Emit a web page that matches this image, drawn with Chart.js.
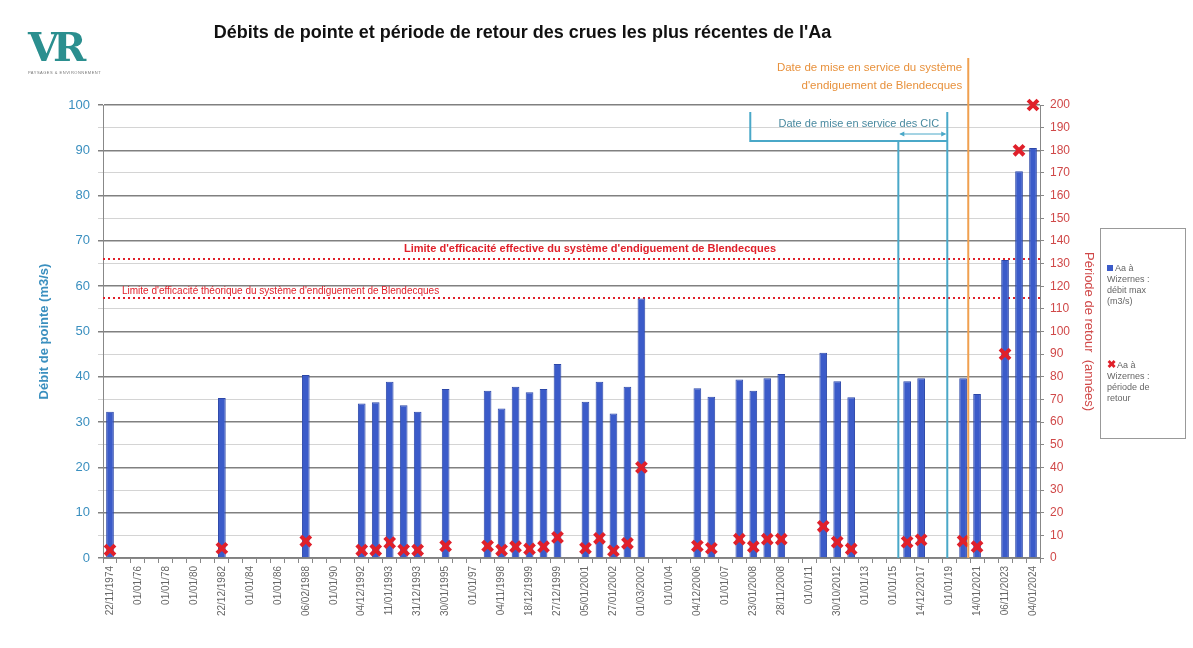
<!DOCTYPE html>
<html lang="fr">
<head>
<meta charset="utf-8">
<title>Débits de pointe de l'Aa</title>
<script src="https://cdn.jsdelivr.net/npm/chart.js@4.4.1/dist/chart.umd.min.js"></script>
<style>
    body { margin: 0; background: #fff; font-family: 'Liberation Sans', Arial, sans-serif; }
    #wrap { position: relative; width: 1193px; height: 648px; overflow: hidden; }
    #chart { position: absolute; left: 0; top: 0; }
    .title { position: absolute; left: 0; top: 22px; width: 1045px; text-align: center; font-weight: bold; font-size: 18px; color: #111; }
    .logo { position: absolute; left: 28px; top: 26px; width: 110px; }
    .logo .big { font-family: 'DejaVu Serif', 'Liberation Serif', serif; font-size: 40px; font-weight: bold; color: #2b8f8f; letter-spacing: -6px; line-height: 42px; }
    .logo .small { font-size: 4px; color: #777; margin-top: 2px; letter-spacing: 0.5px; }
    .legend { position: absolute; left: 1100px; top: 228px; width: 86px; height: 211px; border: 1px solid #999; box-sizing: border-box; font-size: 9px; color: #666; line-height: 11px; }
    .legend .item { position: absolute; left: 6px; width: 76px; }
    .legend .swatch { display: inline-block; width: 6px; height: 6px; background: #3b5bc9; margin-right: 2px; }
    .legend .cross { color: #e0202a; font-weight: bold; font-size: 11px; margin-right: 1px; }
</style>
</head>
<body>
<div id="wrap">
    <canvas id="chart" width="1193" height="648"></canvas>
    <div class="title">Débits de pointe et période de retour des crues les plus récentes de l'Aa</div>
    <div class="logo"><div class="big">VR</div><div class="small">PAYSAGES &amp; ENVIRONNEMENT</div></div>
    <div class="legend">
        <div class="item" style="top:34px"><span class="swatch"></span>Aa à<br>Wizernes :<br>débit max<br>(m3/s)</div>
        <div class="item" style="top:130px"><span class="cross">✖</span>Aa à<br>Wizernes :<br>période de<br>retour</div>
    </div>
</div>
<script>
// catégories de l'axe X (une étiquette sur deux)
const categories = [
    '22/11/1974', '', '01/01/76', '', '01/01/78', '', '01/01/80', '', '22/12/1982', '',
    '01/01/84', '', '01/01/86', '', '06/02/1988', '', '01/01/90', '', '04/12/1992', '',
    '11/01/1993', '', '31/12/1993', '', '30/01/1995', '', '01/01/97', '', '04/11/1998', '',
    '18/12/1999', '', '27/12/1999', '', '05/01/2001', '', '27/01/2002', '', '01/03/2002', '',
    '01/01/04', '', '04/12/2006', '', '01/01/07', '', '23/01/2008', '', '28/11/2008', '',
    '01/01/11', '', '30/10/2012', '', '01/01/13', '', '01/01/15', '', '14/12/2017', '',
    '01/01/19', '', '14/01/2021', '', '06/11/2023', '', '04/01/2024'
];

// débit max (m3/s)
const debits = [
    32.3, null, null, null, null, null, null, null, 35.3, null,
    null, null, null, null, 40.4, null, null, null, 34.1, 34.4,
    38.9, 33.7, 32.3, null, 37.3, null, null, 36.9, 33.0, 37.8,
    36.6, 37.3, 42.8, null, 34.5, 38.9, 31.9, 37.8, 57.3, null,
    null, null, 37.5, 35.6, null, 39.4, 36.9, 39.7, 40.6, null,
    null, 45.3, 39.0, 35.5, null, null, null, 39.0, 39.7, null,
    null, 39.7, 36.2, null, 65.8, 85.4, 90.5
];

// période de retour (années)
const periodes = [
    3.5, null, null, null, null, null, null, null, 4.3, null,
    null, null, null, null, 7.5, null, null, null, 3.5, 3.5,
    6.8, 3.5, 3.5, null, 5.3, null, null, 5.3, 3.5, 5,
    4, 5, 9.1, null, 4.3, 8.7, 3.2, 6.5, 40, null,
    null, null, 5.3, 4.3, null, 8.3, 5, 8.3, 8.3, null,
    null, 14, 7, 4, null, null, null, 7, 8, null,
    null, 7.5, 5, null, 90, 180, 200
];

// limites d'efficacité (m3/s) et dates de mise en service (position sur l'axe des catégories)
const limiteEffective = 66;
const limiteTheorique = 57.5;
const cicDebut = 56.37;
const cicFin = 59.87;
const endiguement = 61.37;

const BLUE = '#3b5bc9';
const RED = '#e0202a';
const TEAL = '#4aa8c8';
const ORANGE = '#f0a050';

const annotations = {
    id: 'annotations',
    beforeDatasetsDraw(chart) {
        const ctx = chart.ctx;
        const area = chart.chartArea;
        const y = chart.scales.y;
        ctx.save();
        ctx.strokeStyle = RED;
        ctx.lineWidth = 2;
        ctx.setLineDash([2, 3]);
        [limiteEffective, limiteTheorique].forEach(v => {
            const py = Math.round(y.getPixelForValue(v));
            ctx.beginPath();
            ctx.moveTo(area.left, py);
            ctx.lineTo(area.right, py);
            ctx.stroke();
        });
        ctx.setLineDash([]);
        ctx.fillStyle = RED;
        ctx.textAlign = 'center';
        ctx.textBaseline = 'bottom';
        ctx.font = 'bold 11px "Liberation Sans", Arial';
        ctx.fillText("Limite d'efficacité effective du système d'endiguement de Blendecques", 590, y.getPixelForValue(limiteEffective) - 5);
        ctx.font = '10px "Liberation Sans", Arial';
        ctx.textAlign = 'left';
        ctx.fillText("Limite d'efficacité théorique du système d'endiguement de Blendecques", 122, y.getPixelForValue(limiteTheorique) - 1);
        ctx.restore();
    },
    afterDatasetsDraw(chart) {
        const ctx = chart.ctx;
        const area = chart.chartArea;
        const x = chart.scales.x;
        const x1 = x.getPixelForValue(cicDebut);
        const x2 = x.getPixelForValue(cicFin);
        const xo = x.getPixelForValue(endiguement);
        ctx.save();
        // CIC
        ctx.strokeStyle = TEAL;
        ctx.lineWidth = 2;
        const boxLeft = x2 - 197;
        ctx.beginPath();
        ctx.moveTo(boxLeft, 112);
        ctx.lineTo(boxLeft, 141);
        ctx.lineTo(x2, 141);
        ctx.moveTo(x2, 112);
        ctx.lineTo(x2, area.bottom);
        ctx.moveTo(x1, 141);
        ctx.lineTo(x1, area.bottom);
        ctx.stroke();
        // double flèche
        ctx.lineWidth = 1;
        ctx.beginPath();
        ctx.moveTo(x1 + 2, 134);
        ctx.lineTo(x2 - 2, 134);
        ctx.stroke();
        ctx.fillStyle = TEAL;
        ctx.beginPath();
        ctx.moveTo(x1 + 1, 134); ctx.lineTo(x1 + 6, 131.5); ctx.lineTo(x1 + 6, 136.5); ctx.fill();
        ctx.beginPath();
        ctx.moveTo(x2 - 1, 134); ctx.lineTo(x2 - 6, 131.5); ctx.lineTo(x2 - 6, 136.5); ctx.fill();
        ctx.fillStyle = '#4a8aa0';
        ctx.font = '11px "Liberation Sans", Arial';
        ctx.textAlign = 'right';
        ctx.textBaseline = 'middle';
        ctx.fillText('Date de mise en service des CIC', x2 - 8, 124);
        // endiguement
        ctx.strokeStyle = ORANGE;
        ctx.lineWidth = 2;
        ctx.beginPath();
        ctx.moveTo(xo, 58);
        ctx.lineTo(xo, area.bottom);
        ctx.stroke();
        ctx.fillStyle = '#e8913c';
        ctx.font = '11.5px "Liberation Sans", Arial';
        ctx.fillText('Date de mise en service du système', xo - 6, 68);
        ctx.fillText("d'endiguement de Blendecques", xo - 6, 86);
        ctx.restore();
    }
};

new Chart(document.getElementById('chart'), {
    type: 'bar',
    data: {
        labels: categories,
        datasets: [{
            type: 'line',
            label: 'Aa à Wizernes : période de retour',
            data: periodes,
            yAxisID: 'y1',
            showLine: false,
            pointStyle: 'crossRot',
            pointRadius: 7,
            pointBorderWidth: 4,
            pointBorderColor: RED,
            pointBackgroundColor: RED,
            clip: false,
            order: 0
        }, {
            label: 'Aa à Wizernes : débit max (m3/s)',
            data: debits,
            yAxisID: 'y',
            backgroundColor: BLUE,
            borderColor: '#2c47a8',
            borderWidth: 1,
            barPercentage: 0.55,
            categoryPercentage: 1,
            order: 1
        }]
    },
    options: {
        responsive: false,
        animation: false,
        layout: { padding: { top: 105, left: 0, right: 0, bottom: 0 } },
        plugins: {
            legend: { display: false },
            tooltip: { enabled: false }
        },
        scales: {
            x: {
                afterFit: s => { s.height = 90; },
                grid: { drawOnChartArea: false, color: '#888', tickLength: 5 },
                border: { color: '#888' },
                ticks: {
                    autoSkip: false,
                    maxRotation: 90,
                    minRotation: 90,
                    padding: 3,
                    color: '#666',
                    font: { size: 10, family: '"Liberation Sans", Arial' }
                }
            },
            y: {
                position: 'left',
                min: 0,
                max: 100,
                afterFit: s => { s.width = 103; },
                border: { color: '#888' },
                grid: {
                    tickLength: 5,
                    color: c => (c.tick && c.tick.value % 10 === 0) ? '#808080' : '#d4d4d4',
                    lineWidth: c => (c.tick && c.tick.value % 10 === 0) ? 1.5 : 1
                },
                ticks: {
                    stepSize: 2.5,
                    padding: 8,
                    color: '#3a8fbf',
                    font: { size: 13, family: '"Liberation Sans", Arial' },
                    callback: v => v % 10 === 0 ? v : ''
                },
                title: {
                    display: true,
                    text: 'Débit de pointe (m3/s)',
                    color: '#3a8fbf',
                    font: { size: 13, weight: 'bold', family: '"Liberation Sans", Arial' },
                    padding: { top: 37, bottom: 0 }
                }
            },
            y1: {
                position: 'right',
                min: 0,
                max: 200,
                afterFit: s => { s.width = 153; },
                border: { color: '#888' },
                grid: { drawOnChartArea: false, color: '#888', tickLength: 4 },
                ticks: {
                    stepSize: 10,
                    padding: 6,
                    color: '#d04848',
                    font: { size: 12, family: '"Liberation Sans", Arial' }
                },
                title: {
                    display: true,
                    text: 'Période de retour  (années)',
                    color: '#d04848',
                    font: { size: 13, family: '"Liberation Sans", Arial' },
                    padding: { top: 97, bottom: 0 }
                }
            }
        }
    },
    plugins: [annotations]
});
</script>
</body>
</html>
